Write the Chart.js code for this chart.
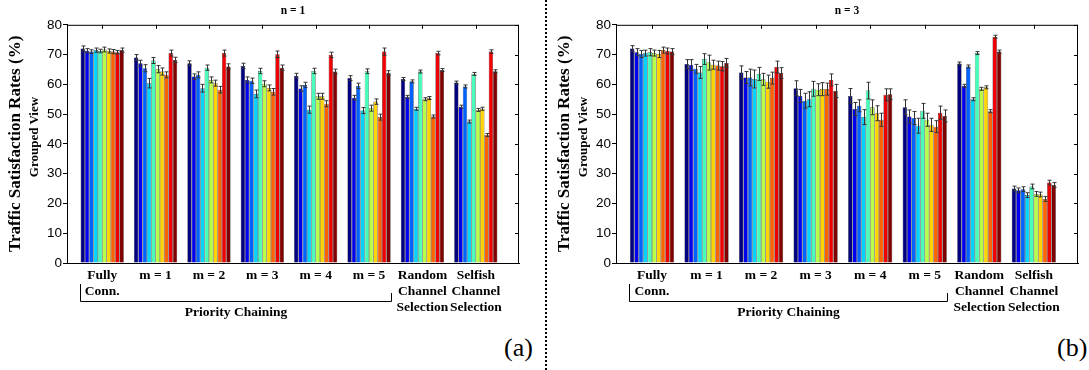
<!DOCTYPE html>
<html>
<head>
<meta charset="utf-8">
<script src="https://cdn.jsdelivr.net/npm/chart.js@4/dist/chart.umd.min.js"></script>
<style>
body { margin: 0; background: #fff; width: 1089px; height: 370px; position: relative; overflow: hidden; }
.panel { position: absolute; top: 0; }
#boxA { left: 0; }
#boxB { left: 549px; }
.sep { position: absolute; left: 545px; top: 0; height: 370px; border-left: 2px dotted #000; }
.sub { position: absolute; width: 110px; height: 16px; line-height: 16px; text-align: center;
       font: bold 13px 'Liberation Serif', serif; transform: rotate(-90deg); white-space: nowrap; }
.tag { position: absolute; top: 333px; font: 26px 'Liberation Serif', serif; }
</style>
</head>
<body>
<div class="panel" id="boxA"><canvas id="chartA" width="545" height="330"></canvas></div>
<div class="panel" id="boxB"><canvas id="chartB" width="540" height="330"></canvas></div>
<div class="sep"></div>
<div class="sub" style="left:-21px; top:129px;">Grouped View</div>
<div class="sub" style="left:528px; top:129px;">Grouped View</div>
<div class="tag" style="left:504px;">(a)</div>
<div class="tag" style="left:1057px;">(b)</div>
<script>
// groups on the x axis
const groups = ['Fully Conn.', 'm = 1', 'm = 2', 'm = 3', 'm = 4', 'm = 5',
   'Random Channel Selection', 'Selfish Channel Selection'];
const groupTicks = [
   ['Fully', 'Conn.'], 'm = 1', 'm = 2', 'm = 3', 'm = 4', 'm = 5',
   ['Random', 'Channel', 'Selection'], ['Selfish', 'Channel', 'Selection'],
];

// 10 series per group, jet colours
const seriesColors = ['#000080', '#0000F0', '#0063FF', '#00D4FF', '#47FFB8',
   '#B8FF47', '#FFD400', '#FF6300', '#F00000', '#800000'];

// (a) n = 1 : one row per group, one value per series
const ratesA = [
   [72.0, 71.3, 71.0, 71.5, 71.2, 71.7, 71.2, 71.0, 70.8, 71.5],
   [69.0, 67.1, 65.4, 60.4, 68.0, 65.1, 64.3, 63.2, 70.5, 68.2],
   [67.1, 62.6, 63.2, 58.7, 65.6, 61.5, 60.4, 58.2, 70.5, 66.0],
   [66.2, 61.5, 61.2, 56.8, 64.5, 60.2, 58.8, 57.5, 70.1, 65.6],
   [62.9, 58.6, 59.8, 51.5, 64.5, 56.0, 56.0, 53.5, 69.9, 64.3],
   [62.1, 55.5, 59.5, 51.2, 64.4, 52.0, 54.2, 49.0, 71.0, 63.8],
   [61.8, 55.8, 61.0, 51.8, 64.3, 55.0, 55.4, 49.2, 70.5, 64.8],
   [60.6, 52.5, 59.3, 47.5, 63.5, 51.4, 51.8, 43.0, 71.0, 64.4],
];
const errA = [
   [0.9, 0.7, 0.6, 0.7, 0.6, 0.8, 0.7, 0.7, 0.6, 0.7],
   [1.0, 1.0, 1.2, 1.6, 1.0, 1.2, 1.2, 1.0, 1.0, 0.9],
   [0.8, 0.9, 1.0, 1.3, 0.9, 1.0, 1.0, 1.1, 1.0, 0.9],
   [0.9, 1.0, 0.9, 1.3, 0.9, 1.0, 1.0, 1.1, 1.1, 0.9],
   [0.8, 0.9, 0.9, 1.2, 0.9, 1.0, 1.0, 1.0, 0.9, 0.8],
   [0.8, 0.8, 0.9, 1.0, 0.8, 1.0, 0.9, 1.0, 1.2, 0.8],
   [0.5, 0.5, 0.5, 0.5, 0.5, 0.5, 0.5, 0.5, 0.6, 0.5],
   [0.5, 0.5, 0.5, 0.5, 0.5, 0.5, 0.5, 0.5, 0.6, 0.5],
];

// (b) n = 3
const ratesB = [
   [72.0, 70.8, 70.2, 70.5, 70.8, 70.5, 70.2, 71.5, 71.2, 71.0],
   [66.8, 66.5, 65.2, 64.0, 68.5, 67.3, 66.6, 66.3, 66.1, 67.2],
   [64.0, 62.3, 62.3, 61.8, 63.5, 61.7, 60.9, 62.1, 65.8, 63.8],
   [58.7, 56.1, 54.5, 55.0, 58.5, 58.2, 58.4, 58.4, 61.5, 57.8],
   [56.1, 51.7, 52.8, 49.0, 57.9, 52.3, 50.3, 48.1, 56.5, 56.7],
   [52.3, 49.2, 48.7, 46.1, 51.1, 48.1, 46.4, 45.8, 50.5, 49.4],
   [67.0, 59.5, 66.0, 55.0, 70.5, 58.5, 59.0, 51.0, 76.0, 71.0],
   [25.0, 24.4, 24.8, 22.8, 25.7, 23.2, 23.0, 21.5, 27.0, 26.2],
];
const errB = [
   [1.0, 1.2, 1.2, 1.0, 1.2, 1.0, 1.2, 1.0, 1.0, 1.0],
   [1.5, 1.8, 1.5, 2.0, 1.8, 2.5, 1.5, 1.5, 1.6, 1.5],
   [2.2, 2.0, 2.8, 3.0, 2.2, 2.0, 2.2, 2.0, 2.0, 1.8],
   [2.5, 2.2, 2.5, 2.5, 2.5, 2.0, 2.2, 2.0, 2.0, 2.2],
   [2.5, 2.2, 2.0, 2.5, 2.8, 2.5, 2.5, 2.2, 2.0, 1.8],
   [2.5, 2.2, 2.2, 2.5, 2.5, 2.2, 2.2, 2.0, 2.2, 2.0],
   [0.5, 0.5, 0.5, 0.5, 0.5, 0.5, 0.5, 0.5, 0.5, 0.5],
   [0.8, 0.8, 0.8, 0.8, 0.8, 0.8, 0.8, 0.8, 0.8, 0.8],
];

const serif = 'Liberation Serif';

// box, inward ticks, error bars, bracket under the priority chaining groups
const decor = {
   id: 'decor',
   afterDatasetsDraw(chart) {
      const { ctx, chartArea: a, scales: { x, y } } = chart;
      ctx.save();
      ctx.strokeStyle = '#333';
      ctx.lineWidth = 1;
      chart.data.datasets.forEach((ds, i) => {
         chart.getDatasetMeta(i).data.forEach((bar, j) => {
            const v = ds.data[j].y, e = ds.err[j];
            const top = y.getPixelForValue(v + e), bot = y.getPixelForValue(v - e);
            const cx = Math.round(bar.x) + 0.5;
            ctx.beginPath();
            ctx.moveTo(cx, top); ctx.lineTo(cx, bot);
            ctx.moveTo(cx - 2, top); ctx.lineTo(cx + 2, top);
            ctx.moveTo(cx - 2, bot); ctx.lineTo(cx + 2, bot);
            ctx.stroke();
         });
      });
      ctx.strokeStyle = '#000';
      ctx.beginPath();
      ctx.moveTo(a.left, a.top + 0.5); ctx.lineTo(a.right, a.top + 0.5);
      ctx.moveTo(a.right - 0.5, a.top); ctx.lineTo(a.right - 0.5, a.bottom);
      x.ticks.forEach(t => {
         const px = Math.round(x.getPixelForValue(t.value)) + 0.5;
         ctx.moveTo(px, a.top); ctx.lineTo(px, a.top + 4);
      });
      y.ticks.forEach(t => {
         const py = Math.round(y.getPixelForValue(t.value)) + 0.5;
         ctx.moveTo(a.right, py); ctx.lineTo(a.right - 4, py);
      });
      // bracket from first group to the m = 5 group
      const first = chart.getDatasetMeta(0).data[0];
      const last = chart.getDatasetMeta(seriesColors.length - 1).data[5];
      const l = Math.round(first.x - first.width / 2) - 0.5;
      const r = Math.round(last.x + last.width / 2) + 0.5;
      const b = a.bottom + 38.5;
      ctx.moveTo(l, a.bottom + 21); ctx.lineTo(l, b); ctx.lineTo(r, b); ctx.lineTo(r, a.bottom + 30);
      ctx.stroke();
      ctx.fillStyle = '#000';
      ctx.font = 'bold 13.5px ' + serif;
      ctx.textAlign = 'center';
      ctx.textBaseline = 'middle';
      ctx.fillText('Priority Chaining', (l + r) / 2, a.bottom + 50);
      ctx.restore();
   },
};

function makePanel(id, title, rates, errs) {
   const datasets = seriesColors.map((c, k) => ({
      label: 'Series ' + (k + 1),
      data: rates.map((row, g) => ({ x: g + 1, y: row[k] })),
      err: errs.map(row => row[k]),
      backgroundColor: c,
      borderColor: '#111',
      borderWidth: 0.5,
      categoryPercentage: 0.81,
      barPercentage: 1,
   }));
   return new Chart(document.getElementById(id), {
      type: 'bar',
      data: { datasets },
      plugins: [decor],
      options: {
         responsive: false,
         animation: false,
         layout: { padding: { left: 0, right: id === 'chartA' ? 26 : 11, top: 0, bottom: 0 } },
         plugins: {
            legend: { display: false },
            tooltip: { enabled: false },
            title: {
               display: true, text: title, color: '#000', fullSize: false,
               font: { family: serif, size: 11.5, weight: 'bold' },
               padding: { top: 4, bottom: 7 },
            },
         },
         scales: {
            x: {
               type: 'linear', min: 0.34, max: 8.81, offset: false,
               afterBuildTicks: s => { s.ticks = groups.map((g, i) => ({ value: i + 1 })); },
               afterFit: s => { s.height = 67; },
               grid: { display: false, drawTicks: false },
               border: { color: '#000', width: 1 },
               ticks: {
                  autoSkip: false, maxRotation: 0, minRotation: 0, padding: 4, color: '#000',
                  font: { family: serif, size: 13.5, weight: 'bold', lineHeight: 1.2 },
                  callback: (v, i) => groupTicks[i],
               },
            },
            y: {
               min: 0, max: 80,
               afterFit: s => { s.width = 67; },
               grid: { drawOnChartArea: false, tickLength: 4, color: '#000' },
               border: { color: '#000', width: 1 },
               ticks: { stepSize: 10, padding: 1, color: '#000', font: { family: 'Liberation Sans', size: 13.5 } },
               title: {
                  display: true, text: 'Traffic Satisfaction Rates (%)', color: '#000',
                  font: { family: serif, size: 17, weight: 'bold' },
                  padding: { top: 5, bottom: 0 },
               },
            },
         },
      },
   });
}

makePanel('chartA', 'n = 1', ratesA, errA);
makePanel('chartB', 'n = 3', ratesB, errB);
</script>
</body>
</html>
